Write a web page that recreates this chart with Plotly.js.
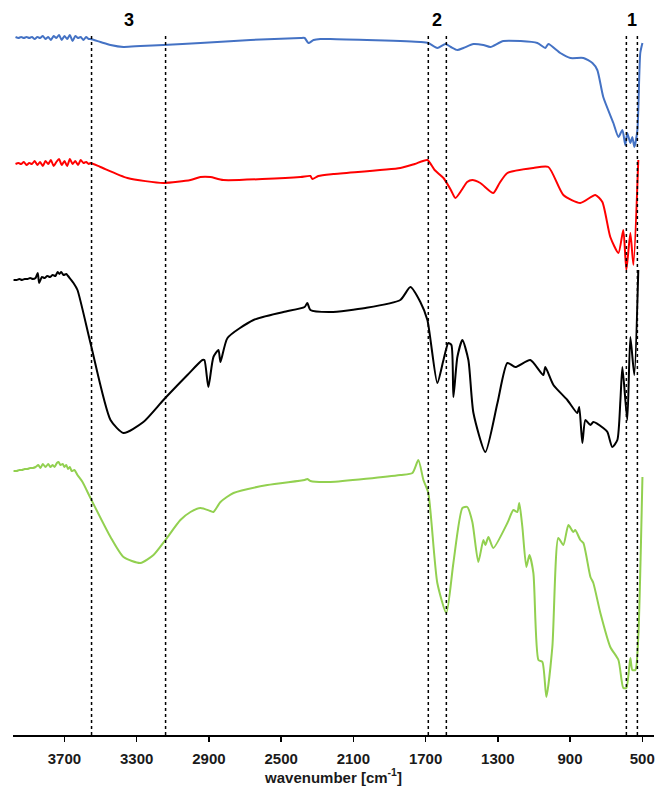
<!DOCTYPE html>
<html>
<head>
<meta charset="utf-8">
<script src="https://cdn.plot.ly/plotly-3.0.1.min.js"></script>
<style>html,body{margin:0;padding:0;background:#fff;}#chart{width:659px;height:790px;}</style>
</head>
<body>
<div id="chart"></div>
<script>
// Wavenumbers (cm-1) and offset transmittance values (arbitrary units)
const blueWn = [3971,3955,3940,3925,3910,3895,3880,3865,3850,3835,3820,3805,3790,3775,3760,3745,3730,3715,3700,3685,3670,3655,3640,3625,3610,3595,3580,3565,3556,3501,3445,3373,3279,3152,2947,2670,2393,2370,2349,2320,2283,2227,1729,1685,1635,1590,1560,1524,1491,1435,1380,1341,1269,1081,1037,1020,954,898,826,776,749,716,660,632,610,594,583,566,555,544,527,511,499];
const blueT  = [698,697,698,697,698,697,698,696,698,697,699,696,698,695,699,697,700,695,699,696,700,694,699,697,698,695,698,696,696,693,690,688,689,690,692,695,697,697,692,695,696,696,693,692,687,691,688,685,687,691,690,688,694,692,687,691,682,677,677,672,665,638,612,598,605,590,602,592,598,588,605,682,692];

const redWn = [3971,3955,3940,3925,3910,3895,3880,3865,3850,3835,3820,3805,3790,3775,3760,3745,3730,3715,3700,3685,3670,3655,3640,3625,3610,3595,3580,3565,3556,3501,3351,3152,3002,2947,2892,2820,2393,2338,2327,2294,2211,1840,1760,1690,1650,1601,1560,1535,1500,1470,1441,1397,1325,1290,1247,1103,1020,937,843,760,721,677,632,605,588,566,549,522];
const redT  = [571,572,571,573,570,572,571,574,570,573,569,574,571,575,569,573,576,570,574,569,576,571,574,570,575,572,573,571,572,568,557,552,555,558,558,555,558,559,556,559,561,567,571,575,565,557,545,537,545,553,555,552,542,552,562,567,568,540,532,540,533,498,482,505,465,502,470,575];

const blackWn = [3982,3965,3950,3935,3920,3905,3890,3875,3860,3848,3840,3825,3810,3795,3780,3765,3750,3738,3728,3718,3705,3690,3680,3667,3650,3628,3556,3445,3373,3263,3152,3019,2936,2925,2903,2875,2847,2836,2797,2653,2487,2370,2355,2338,2227,2033,1840,1784,1729,1690,1635,1601,1574,1557,1546,1524,1496,1463,1435,1369,1302,1247,1203,1120,1048,1037,992,915,860,849,832,815,787,771,716,693,666,638,621,610,583,566,544,522];
const blackT  = [455,455,456,455,456,456,457,456,457,462,452,458,457,459,458,460,459,463,461,463,460,461,459,456,452,445,392,315,302,313,335,360,375,375,348,378,385,373,397,415,423,428,432,425,423,427,435,448,433,415,352,375,392,390,338,378,395,375,322,283,332,372,368,375,360,368,350,335,322,328,292,315,310,313,307,303,288,295,335,368,315,398,360,465];

const greenWn = [3982,3965,3950,3935,3920,3905,3890,3875,3860,3845,3833,3820,3805,3790,3778,3765,3755,3742,3733,3722,3710,3700,3690,3680,3670,3660,3645,3628,3600,3556,3445,3373,3279,3207,3141,3058,3002,2947,2892,2875,2836,2764,2576,2370,2355,2338,2227,1840,1773,1740,1712,1685,1635,1585,1546,1496,1469,1441,1408,1380,1369,1352,1325,1247,1214,1192,1181,1164,1142,1125,1103,1075,1053,1031,998,965,937,909,882,871,843,826,787,771,732,677,632,605,588,566,555,538,522,499];
const greenT  = [264,264,265,265,266,266,267,267,268,270,267,271,268,271,268,270,268,272,273,270,271,268,270,266,268,264,265,260,253,237,198,178,172,180,195,215,223,227,224,223,233,242,250,255,256,254,253,260,262,275,255,242,152,122,172,227,228,213,173,195,190,198,187,212,225,223,232,208,168,180,162,75,73,38,88,197,190,210,203,205,195,192,158,152,122,88,75,47,47,77,65,65,98,258];

const markerLines = [3550, 3140, 1685, 1585, 588, 527];
const bandLabels = ['3', '2', '1'];
const bandCenters = [3345, 1635, 557];
const tickVals = [3700, 3300, 2900, 2500, 2100, 1700, 1300, 900, 500];

const traces = [
  {x: blueWn, y: blueT, color: '#4472C4'},
  {x: redWn, y: redT, color: '#FF0000'},
  {x: blackWn, y: blackT, color: '#000000'},
  {x: greenWn, y: greenT, color: '#92D050'}
].map(s => ({x: s.x, y: s.y, type: 'scatter', mode: 'lines',
  line: {color: s.color, width: 2, shape: 'spline', smoothing: 0.6}, hoverinfo: 'skip'}));

const shapes = markerLines.map(v => ({
  type: 'line', xref: 'x', yref: 'paper', x0: v, x1: v, y0: 0, y1: 1,
  line: {color: '#000', width: 1.5, dash: 'dot'}
}));

const annotations = bandLabels.map((t, i) => ({
  text: t, x: bandCenters[i], xref: 'x', y: 1.0185, yref: 'paper',
  xanchor: 'center', yanchor: 'middle', showarrow: false,
  font: {family: 'Liberation Sans, Arial, sans-serif', size: 18, color: '#000', weight: 'bold'}
}));

const layout = {
  width: 659, height: 790,
  margin: {l: 13, r: 5, t: 33, b: 55},
  paper_bgcolor: '#fff', plot_bgcolor: '#fff',
  showlegend: false,
  xaxis: {
    range: [3985, 435],
    tickvals: tickVals,
    ticktext: tickVals.map(String),
    ticks: 'outside', ticklen: 5, tickwidth: 1.5, tickcolor: '#000',
    ticklabelstandoff: 4,
    showline: true, linecolor: '#000', linewidth: 1.5,
    showgrid: false, zeroline: false,
    tickfont: {family: 'Liberation Sans, Arial, sans-serif', size: 15, color: '#1a1a1a', weight: 'bold'},
    title: {text: 'wavenumber [cm<sup>-1</sup>]', standoff: 4,
      font: {family: 'Liberation Sans, Arial, sans-serif', size: 15, color: '#1a1a1a', weight: 'bold'}}
  },
  yaxis: {range: [0, 702], visible: false, showgrid: false, zeroline: false},
  shapes: shapes,
  annotations: annotations
};

Plotly.newPlot('chart', traces, layout, {displayModeBar: false, staticPlot: true});
</script>
</body>
</html>
